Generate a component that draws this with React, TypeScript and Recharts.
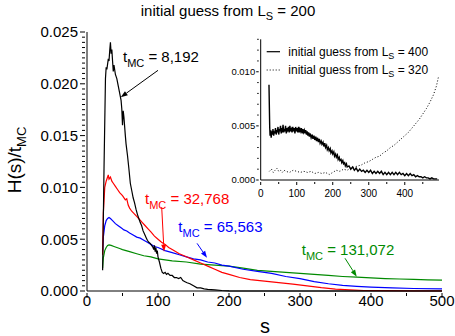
// H(s)/t_MC histogram chart with an inset, drawn with Recharts
import { LineChart, Line, XAxis, YAxis, ReferenceDot, ReferenceLine } from "recharts";

const FONT = '"Liberation Sans", Arial, Helvetica, sans-serif';

// main plot: [s, H(s)/t_MC]
const T_8192 = [
  [22, 0.002], [24, 0.012], [26, 0.0205], [27, 0.0216], [28, 0.0214], [30, 0.0224], [31, 0.0222],
  [32, 0.0232], [33, 0.024], [34, 0.0229], [35, 0.0233], [36, 0.0222], [37, 0.0212], [38, 0.0218],
  [40, 0.0209], [42, 0.0205], [44, 0.0198], [46, 0.0191], [48, 0.0184], [49, 0.0176], [50, 0.016],
  [51, 0.0174], [52, 0.0168], [54, 0.015], [55, 0.0142], [57, 0.0131], [59, 0.0118], [61, 0.0104],
  [63, 0.0097], [65, 0.009], [67, 0.0085], [69, 0.0079], [71, 0.0074], [73, 0.007], [75, 0.0066],
  [77, 0.0063], [79, 0.0058], [81, 0.0055], [83, 0.0052], [85, 0.0049], [87, 0.0047], [89, 0.0046],
  [91, 0.0044], [93, 0.0042], [94, 0.004], [95, 0.0044], [96, 0.0038], [97, 0.0042], [98, 0.0036],
  [99, 0.0039], [100, 0.0033], [102, 0.0028], [104, 0.0022], [106, 0.0018], [108, 0.0017], [110, 0.0018],
  [112, 0.0016], [114, 0.0017], [117, 0.0015], [120, 0.0015], [123, 0.0013], [126, 0.0013], [129, 0.0012],
  [132, 0.0013], [135, 0.001], [138, 0.0009], [141, 0.0008], [145, 0.0007], [150, 0.0005], [155, 0.0003],
  [160, 0.0003], [165, 0.0002], [170, 0.00015], [180, 0.0001], [190, 0.00005], [200, 0.00002],
  [220, 0], [300, 0], [400, 0], [500, 0],
];

const T_32768 = [
  [22, 0.0035], [23, 0.0075], [25, 0.01], [27, 0.0106], [29, 0.011], [30, 0.0112], [31, 0.0108],
  [33, 0.011], [35, 0.0106], [37, 0.0104], [40, 0.0101], [43, 0.0098], [46, 0.0095], [50, 0.0092],
  [54, 0.0088], [56, 0.0089], [58, 0.0083], [60, 0.008], [63, 0.0077], [66, 0.0075], [70, 0.0072],
  [74, 0.0069], [78, 0.0066], [82, 0.0063], [86, 0.006], [90, 0.0057], [95, 0.0053], [100, 0.005],
  [105, 0.0047], [110, 0.0045], [115, 0.0042], [120, 0.004], [130, 0.0036], [140, 0.0033], [150, 0.003],
  [160, 0.0027], [170, 0.0024], [180, 0.0021], [190, 0.0018], [200, 0.0016], [215, 0.0013], [230, 0.0011],
  [250, 0.00095], [270, 0.0008], [290, 0.00066], [310, 0.0005], [330, 0.00032], [350, 0.00018],
  [370, 0.0001], [390, 0.00005], [420, 0.00003], [460, 0.00002], [500, 0.00001],
];

const T_65563 = [
  [22, 0.0038], [23, 0.0052], [25, 0.0063], [27, 0.0068], [29, 0.007], [31, 0.0071], [33, 0.007],
  [36, 0.0068], [40, 0.0065], [44, 0.0063], [48, 0.0061], [52, 0.0059], [56, 0.0058], [60, 0.0056],
  [65, 0.0054], [70, 0.0052], [75, 0.0051], [80, 0.0049], [85, 0.0047], [90, 0.0045], [95, 0.0043],
  [100, 0.0042], [110, 0.0039], [120, 0.0037], [130, 0.0035], [140, 0.0033], [150, 0.0031], [160, 0.003],
  [170, 0.0028], [180, 0.0027], [190, 0.0025], [200, 0.0024], [220, 0.0021], [240, 0.0019], [260, 0.0017],
  [280, 0.0014], [300, 0.0012], [320, 0.0009], [340, 0.0007], [360, 0.00055], [380, 0.00045],
  [400, 0.00038], [430, 0.0003], [460, 0.00024], [500, 0.0002],
];

const T_131072 = [
  [22, 0.0022], [23, 0.0032], [25, 0.0039], [27, 0.0042], [29, 0.0044], [31, 0.00445], [34, 0.0044],
  [38, 0.0043], [42, 0.0042], [46, 0.0041], [50, 0.004], [55, 0.0039], [60, 0.0038], [70, 0.0036],
  [80, 0.0034], [90, 0.0033], [100, 0.0031], [120, 0.0029], [140, 0.0028], [160, 0.0026], [180, 0.0025],
  [200, 0.0024], [220, 0.0022], [240, 0.002], [260, 0.0019], [280, 0.0018], [300, 0.0017], [320, 0.0016],
  [340, 0.0015], [360, 0.0014], [380, 0.00133], [400, 0.00127], [420, 0.0012], [440, 0.00116],
  [460, 0.00112], [480, 0.00108], [500, 0.00105],
];

// inset: two other initial guesses
const LS_400 = [
  [23, 0.0088], [25, 0.0049], [26, 0.0041], [28, 0.0046], [29, 0.0039], [31, 0.0045], [33, 0.0042],
  [34, 0.0047], [36, 0.0041], [38, 0.0045], [39, 0.0043], [41, 0.0048], [43, 0.0042], [45, 0.0046],
  [46, 0.0044], [48, 0.0049], [50, 0.0042], [52, 0.0047], [53, 0.0045], [55, 0.005], [57, 0.0043],
  [59, 0.0048], [60, 0.0044], [62, 0.0051], [64, 0.0044], [66, 0.0047], [67, 0.0045], [69, 0.005],
  [71, 0.0043], [73, 0.0048], [75, 0.0046], [77, 0.0049], [79, 0.0044], [81, 0.005], [83, 0.0045],
  [85, 0.0047], [87, 0.0044], [89, 0.0049], [91, 0.0045], [93, 0.0048], [95, 0.0043], [97, 0.0049],
  [99, 0.0045], [101, 0.0048], [103, 0.0044], [105, 0.0049], [107, 0.0044], [109, 0.0047], [111, 0.0045],
  [113, 0.0048], [115, 0.0043], [117, 0.0047], [119, 0.0044], [121, 0.0046], [123, 0.0043], [125, 0.0046],
  [127, 0.0042], [129, 0.0045], [131, 0.0041], [133, 0.0044], [135, 0.004], [137, 0.0043], [140, 0.0039],
  [143, 0.0042], [145, 0.0038], [148, 0.0041], [150, 0.0037], [153, 0.004], [155, 0.0036], [158, 0.0039],
  [160, 0.0035], [163, 0.0038], [165, 0.0034], [168, 0.0036], [170, 0.0033], [173, 0.0035], [175, 0.0031],
  [178, 0.0034], [180, 0.003], [183, 0.0032], [185, 0.0028], [188, 0.003], [190, 0.0027], [193, 0.0029],
  [195, 0.0025], [198, 0.0027], [200, 0.0024], [203, 0.0026], [205, 0.0022], [208, 0.0024], [210, 0.0021],
  [213, 0.0023], [215, 0.0019], [218, 0.0021], [220, 0.0018], [223, 0.0019], [225, 0.0016], [228, 0.0018],
  [230, 0.0015], [233, 0.0016], [235, 0.0013], [238, 0.0015], [240, 0.0012], [245, 0.0013], [250, 0.001],
  [255, 0.0012], [260, 0.0009], [265, 0.0011], [270, 0.0008], [275, 0.001], [280, 0.0008], [285, 0.0009],
  [290, 0.0007], [295, 0.0009], [300, 0.0007], [305, 0.0009], [310, 0.0006], [315, 0.0008], [320, 0.0006],
  [325, 0.0008], [330, 0.0006], [335, 0.0008], [340, 0.0005], [345, 0.0007], [350, 0.0005], [355, 0.0007],
  [360, 0.0005], [365, 0.0007], [370, 0.0005], [375, 0.0007], [380, 0.0005], [385, 0.0007], [390, 0.0005],
  [395, 0.0006], [400, 0.0004], [405, 0.0006], [410, 0.0004], [415, 0.0006], [420, 0.0004], [425, 0.0005],
  [430, 0.0003], [435, 0.0004], [440, 0.0003], [445, 0.0003], [450, 0.0002], [455, 0.0003], [460, 0.0002],
  [465, 0.0002], [470, 0.0001], [475, 0.0002], [480, 0.0001], [485, 0.0001], [490, 0.0001],
];

const LS_320 = [
  [24, 0.0008], [30, 0.001], [35, 0.0007], [40, 0.0009], [45, 0.0011], [50, 0.0008], [55, 0.0009],
  [60, 0.0007], [65, 0.0009], [70, 0.0008], [80, 0.0007], [90, 0.0009], [100, 0.0008], [110, 0.0007],
  [120, 0.0008], [130, 0.0007], [140, 0.0008], [150, 0.0006], [160, 0.0007], [170, 0.0006], [180, 0.0007],
  [190, 0.0005], [200, 0.0007], [210, 0.0009], [220, 0.0008], [230, 0.001], [240, 0.0009], [250, 0.0011],
  [260, 0.0012], [270, 0.0013], [280, 0.0014], [290, 0.0016], [300, 0.0017], [310, 0.0019], [320, 0.0021],
  [330, 0.0022], [340, 0.0025], [350, 0.0027], [360, 0.003], [370, 0.0032], [380, 0.0035], [390, 0.0038],
  [400, 0.0041], [410, 0.0044], [420, 0.0048], [430, 0.0052], [440, 0.0056], [450, 0.0061], [460, 0.0066],
  [470, 0.0072], [480, 0.0079], [488, 0.0087], [494, 0.0096],
];

const X_TICKS = [0, 50, 100, 150, 200, 250, 300, 350, 400, 450, 500];
const Y_TICKS = Array.from({ length: 51 }, (_, i) => +(i * 0.0005).toFixed(4));
const INSET_X_TICKS = [0, 50, 100, 150, 200, 250, 300, 350, 400, 450];
const INSET_Y_TICKS = Array.from({ length: 14 }, (_, i) => +(i * 0.001).toFixed(3));

const toRows = (pts: number[][]) => pts.map(([s, h]) => ({ s, h }));

const isMajor = (v: number, step: number) => Math.abs(v / step - Math.round(v / step)) < 1e-6;

// tick drawers (tickSize 0 so x/y is the axis line itself)
const BottomTick = ({ x, y, payload, step, big, small, font, gap }: any) => {
  const major = isMajor(payload.value, step);
  return (
    <g>
      <line x1={x} x2={x} y1={y} y2={y + (major ? big : small)} stroke="#000" />
      {major ? (
        <text x={x} y={y + gap} textAnchor="middle" fontSize={font} fontFamily={FONT} fill="#000">
          {payload.value}
        </text>
      ) : null}
    </g>
  );
};

const LeftTick = ({ x, y, payload, step, big, small, font, gap }: any) => {
  const major = isMajor(payload.value, step);
  return (
    <g>
      <line x1={x - (major ? big : small)} x2={x} y1={y} y2={y} stroke="#000" />
      {major ? (
        <text x={x - gap} y={y + font * 0.36} textAnchor="end" fontSize={font} fontFamily={FONT} fill="#000">
          {payload.value.toFixed(3)}
        </text>
      ) : null}
    </g>
  );
};

const TopTick = ({ x, y }: any) => <line x1={x} x2={x} y1={y - 4} y2={y} stroke="#000" />;

const RightTick = ({ x, y, payload }: any) => {
  const len = isMajor(payload.value, 0.005) ? 5 : 3;
  return <line x1={x} x2={x + len} y1={y} y2={y} stroke="#000" />;
};

const TmcLabel = ({ cx, cy, value, color }: any) => (
  <text x={cx} y={cy} fill={color} fontSize={15} fontFamily={FONT}>
    t
    <tspan dy={5} fontSize={11}>MC</tspan>
    <tspan dy={-5}>{` = ${value}`}</tspan>
  </text>
);

const Arrow = ({ x1, y1, x2, y2, color }: any) => {
  const a = Math.atan2(y2 - y1, x2 - x1);
  const len = 7;
  const w = 2.5;
  const bx = x2 - len * Math.cos(a);
  const by = y2 - len * Math.sin(a);
  const pts = `${x2},${y2} ${bx - w * Math.sin(a)},${by + w * Math.cos(a)} ${bx + w * Math.sin(a)},${by - w * Math.cos(a)}`;
  return (
    <g>
      <line x1={x1} y1={y1} x2={bx} y2={by} stroke={color} strokeWidth={1} />
      <polygon points={pts} fill={color} />
    </g>
  );
};

// annotation spots in data coordinates
const NOTES = [
  { value: "8,192", color: "#000000", text: [50.7, 0.0221], from: [100, 0.0213], to: [47.5, 0.0187] },
  { value: "32,768", color: "#ff0000", text: [81.7, 0.0084], from: [105.2, 0.0081], to: [108.5, 0.0038] },
  { value: "65,563", color: "#0000ff", text: [128.6, 0.0057], from: [155, 0.0046], to: [169, 0.0032] },
  { value: "131,072", color: "#008a00", text: [302.4, 0.00347], from: [363.4, 0.00316], to: [379.9, 0.00138] },
];

function Inset() {
  return (
    <div style={{ position: "absolute", left: 225, top: 35 }}>
      <LineChart width={216} height={170} margin={{ top: 4.3, right: 2, bottom: 0, left: 0 }}>
        <XAxis
          xAxisId="x"
          type="number"
          dataKey="s"
          domain={[0, 495]}
          ticks={INSET_X_TICKS}
          interval={0}
          height={25}
          tickSize={0}
          tickLine={false}
          axisLine={{ stroke: "#000" }}
          tick={(p: any) => <BottomTick {...p} step={100} big={3} small={2} font={10} gap={14.5} />}
        />
        <XAxis xAxisId="t" orientation="top" type="number" domain={[0, 495]} height={0} tick={false} tickLine={false} axisLine={{ stroke: "#000" }} />
        <YAxis
          yAxisId="y"
          type="number"
          domain={[0, 0.013]}
          ticks={INSET_Y_TICKS}
          interval={0}
          width={35.7}
          tickSize={0}
          tickLine={false}
          axisLine={{ stroke: "#000" }}
          tick={(p: any) => <LeftTick {...p} step={0.005} big={2.5} small={1.5} font={9.5} gap={3.5} />}
        />
        <YAxis yAxisId="r" orientation="right" type="number" domain={[0, 0.013]} width={0} tick={false} tickLine={false} axisLine={{ stroke: "#000" }} />
        <Line xAxisId="x" yAxisId="y" data={toRows(LS_400)} dataKey="h" stroke="#000" strokeWidth={1.4} dot={false} isAnimationActive={false} />
        <Line xAxisId="x" yAxisId="y" data={toRows(LS_320)} dataKey="h" stroke="#000" strokeWidth={1} strokeDasharray="1 2" dot={false} isAnimationActive={false} />
      </LineChart>
    </div>
  );
}

export default function App() {
  return (
    <div style={{ position: "absolute", left: 0, top: 0, width: 455, height: 336, background: "#fff" }}>
      <LineChart width={455} height={336} margin={{ top: 32, right: 13, bottom: 0, left: 0 }}>
        <XAxis
          xAxisId="x"
          type="number"
          dataKey="s"
          domain={[0, 500]}
          ticks={X_TICKS}
          interval={0}
          height={45}
          tickSize={0}
          tickLine={false}
          axisLine={{ stroke: "#000" }}
          tick={(p: any) => <BottomTick {...p} step={100} big={5} small={3} font={15} gap={13} />}
        />
        <XAxis xAxisId="t" orientation="top" type="number" domain={[0, 500]} ticks={X_TICKS} interval={0} height={0} tickSize={0} tickLine={false} axisLine={{ stroke: "#000" }} tick={(p: any) => <TopTick {...p} />} />
        <YAxis
          yAxisId="y"
          type="number"
          domain={[0, 0.025]}
          ticks={Y_TICKS}
          interval={0}
          width={87}
          tickSize={0}
          tickLine={false}
          axisLine={{ stroke: "#000" }}
          tick={(p: any) => <LeftTick {...p} step={0.005} big={5} small={3} font={15} gap={7} />}
        />
        <YAxis yAxisId="r" orientation="right" type="number" domain={[0, 0.025]} ticks={Y_TICKS} interval={0} width={0} tickSize={0} tickLine={false} axisLine={{ stroke: "#000" }} tick={(p: any) => <RightTick {...p} />} />

        <Line xAxisId="x" yAxisId="y" data={toRows(T_131072)} dataKey="h" stroke="#008a00" strokeWidth={1.2} dot={false} isAnimationActive={false} />
        <Line xAxisId="x" yAxisId="y" data={toRows(T_65563)} dataKey="h" stroke="#0000ff" strokeWidth={1.2} dot={false} isAnimationActive={false} />
        <Line xAxisId="x" yAxisId="y" data={toRows(T_32768)} dataKey="h" stroke="#ff0000" strokeWidth={1.2} dot={false} isAnimationActive={false} />
        <Line xAxisId="x" yAxisId="y" data={toRows(T_8192)} dataKey="h" stroke="#000000" strokeWidth={1.2} dot={false} isAnimationActive={false} />

        {NOTES.map((n) => (
          <ReferenceDot
            key={n.value}
            xAxisId="x"
            yAxisId="y"
            x={n.text[0]}
            y={n.text[1]}
            r={0}
            ifOverflow="visible"
            shape={(p: any) => <TmcLabel cx={p.cx} cy={p.cy} value={n.value} color={n.color} />}
          />
        ))}
        {NOTES.map((n) => (
          <ReferenceLine
            key={"a" + n.value}
            xAxisId="x"
            yAxisId="y"
            segment={[{ x: n.from[0], y: n.from[1] }, { x: n.to[0], y: n.to[1] }]}
            ifOverflow="visible"
            shape={(p: any) => <Arrow {...p} color={n.color} />}
          />
        ))}
      </LineChart>

      <Inset />

      {/* title, axis names and the inset legend */}
      <svg width={455} height={336} style={{ position: "absolute", left: 0, top: 0, pointerEvents: "none" }}>
        <text x={228} y={15.5} textAnchor="middle" fontSize={15} fontFamily={FONT}>
          initial guess from L<tspan dy={4} fontSize={11}>S</tspan>
          <tspan dy={-4}> = 200</tspan>
        </text>
        <text x={265} y={333} textAnchor="middle" fontSize={20} fontFamily={FONT}>s</text>
        <text x={21} y={160} textAnchor="middle" fontSize={19} fontFamily={FONT} transform="rotate(-90 21 160)">
          H(s)/t<tspan dy={5} fontSize={13}>MC</tspan>
        </text>
        <line x1={266.7} x2={280} y1={51.7} y2={51.7} stroke="#000" strokeWidth={1.2} />
        <text x={288.3} y={55.5} fontSize={12} fontFamily={FONT}>
          initial guess from L<tspan dy={3} fontSize={9}>S</tspan>
          <tspan dy={-3}> = 400</tspan>
        </text>
        <line x1={266.7} x2={280} y1={70} y2={70} stroke="#000" strokeWidth={1} strokeDasharray="1 2" />
        <text x={288.3} y={74} fontSize={12} fontFamily={FONT}>
          initial guess from L<tspan dy={3} fontSize={9}>S</tspan>
          <tspan dy={-3}> = 320</tspan>
        </text>
      </svg>
    </div>
  );
}
